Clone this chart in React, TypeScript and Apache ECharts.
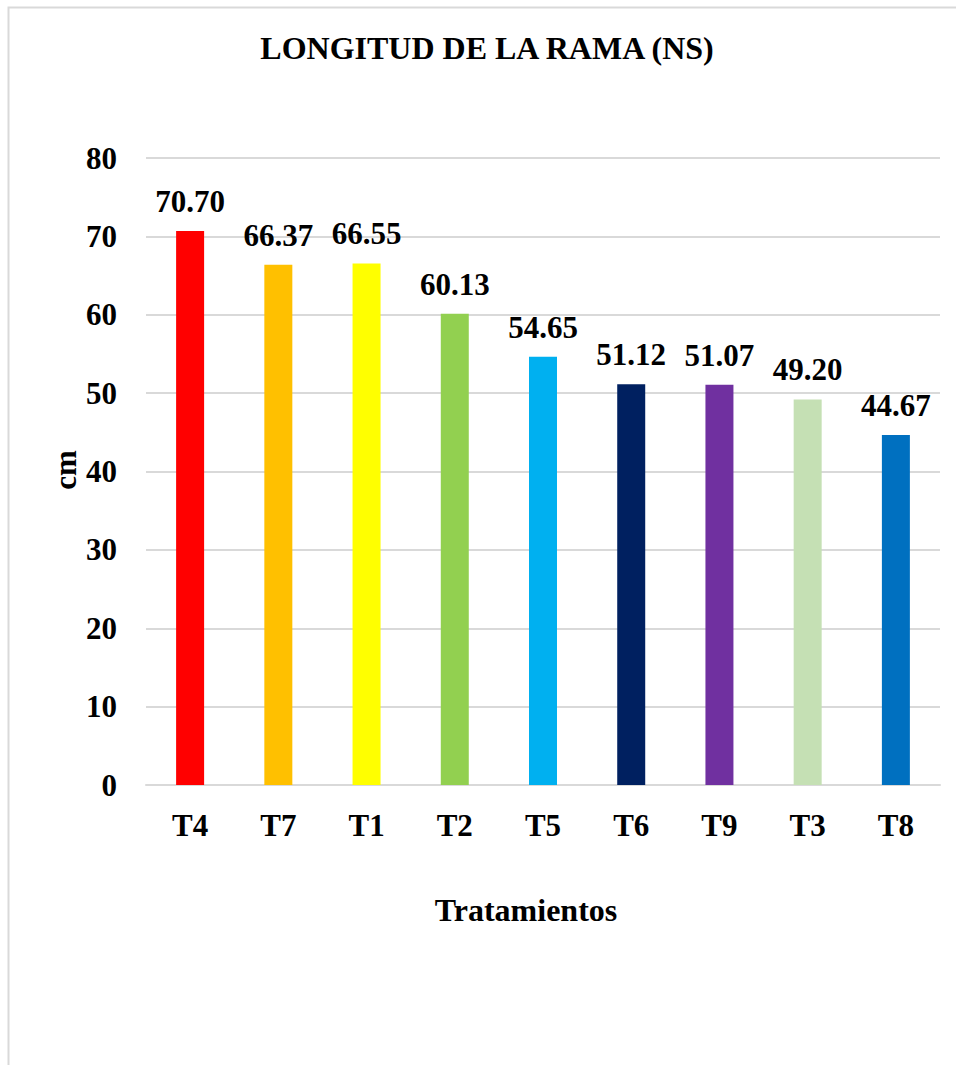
import React, { useEffect, useRef } from "react";
import * as echarts from "echarts";

const categories = ["T4", "T7", "T1", "T2", "T5", "T6", "T9", "T3", "T8"];
const values = [70.7, 66.37, 66.55, 60.13, 54.65, 51.12, 51.07, 49.2, 44.67];
const colors = ["#FF0000", "#FFC000", "#FFFF00", "#92D050", "#00B0F0", "#002060", "#7030A0", "#C5E0B4", "#0070C0"];
const yTicks = { min: 0, max: 80, interval: 10 };

const FONT = "Liberation Serif";

export default function App() {
  const ref = useRef<HTMLDivElement>(null);
  useEffect(() => {
    if (!ref.current) return;
    const chart = echarts.init(ref.current, null, { renderer: "svg" });
    chart.setOption({
      animation: false,
      backgroundColor: "#ffffff",
      textStyle: { fontFamily: FONT, fontWeight: "bold", color: "#000" },
      graphic: [
        {
          type: "rect",
          shape: { x: 8.5, y: 7.5, width: 1000, height: 1100 },
          style: { fill: "none", stroke: "#d9d9d9", lineWidth: 2 },
          silent: true,
        },
        {
          type: "text",
          x: 487,
          y: 48,
          style: {
            text: "LONGITUD DE LA RAMA (NS)",
            fontFamily: FONT,
            fontSize: 32,
            fontWeight: "bold",
            fill: "#000",
            align: "center",
            verticalAlign: "middle",
          },
        },
        {
          type: "text",
          x: 526,
          y: 910,
          style: {
            text: "Tratamientos",
            fontFamily: FONT,
            fontSize: 32,
            fontWeight: "bold",
            fill: "#000",
            align: "center",
            verticalAlign: "middle",
          },
        },
        {
          type: "text",
          x: 65,
          y: 470,
          rotation: Math.PI / 2,
          style: {
            text: "cm",
            fontFamily: FONT,
            fontSize: 31,
            fontWeight: "bold",
            fill: "#000",
            align: "center",
            verticalAlign: "middle",
          },
        },
      ],
      grid: { left: 146, right: 16, top: 158, bottom: 280 },
      xAxis: {
        type: "category",
        data: categories,
        axisLine: { lineStyle: { color: "#d9d9d9", width: 2 } },
        axisTick: { show: false },
        axisLabel: { fontFamily: FONT, fontSize: 31, fontWeight: "bold", color: "#000", margin: 25 },
      },
      yAxis: {
        type: "value",
        min: yTicks.min,
        max: yTicks.max,
        interval: yTicks.interval,
        axisLine: { show: false },
        axisTick: { show: false },
        splitLine: { lineStyle: { color: "#d9d9d9", width: 2 } },
        axisLabel: { fontFamily: FONT, fontSize: 31, fontWeight: "bold", color: "#000", margin: 29 },
      },
      series: [
        {
          type: "bar",
          barWidth: 28,
          data: values.map((v, i) => ({ value: v, itemStyle: { color: colors[i] } })),
          label: {
            show: true,
            position: "top",
            distance: 14,
            formatter: (p: any) => Number(p.value).toFixed(2),
            fontFamily: FONT,
            fontSize: 31,
            fontWeight: "bold",
            color: "#000",
          },
        },
      ],
    });
    return () => chart.dispose();
  }, []);
  return (
    <div
      ref={ref}
      style={{ position: "absolute", left: 0, top: 0, width: 956, height: 1065 }}
    />
  );
}
